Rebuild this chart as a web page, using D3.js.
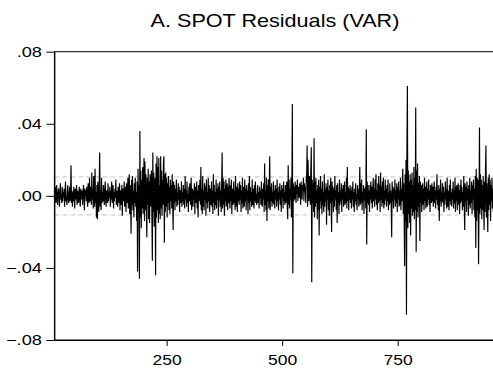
<!DOCTYPE html>
<html>
<head>
<meta charset="utf-8">
<script src="https://cdn.jsdelivr.net/npm/d3@7/dist/d3.min.js"></script>
<style>
  html, body { margin: 0; padding: 0; background: #fff; }
  svg { display: block; }
</style>
</head>
<body>
<svg id="chart" width="493" height="373"></svg>
<script>
// ---- DATA ----
const title = "A. SPOT Residuals (VAR)";
const firstObs = 7;            // observation number of the first residual shown
const lastObs = 958;           // right edge of the sample axis
const valueUnit = 0.001;       // residuals below are written in thousandths
const yTicks = [-0.08, -0.04, 0, 0.04, 0.08];
const xTicks = [250, 500, 750];
const bandLevels = [0.0105, -0.0106]; // dashed reference lines
const residuals = [
  3,-2,5,-4,1,6,-3,-5,2,4,-1,-6,3,7,-2,1,-4,5,-3,2,
  -1,4,-6,2,8,-3,0,-5,3,6,-2,-4,1,5,-3,2,17,-4,3,-6,
  2,-3,5,-1,-7,4,1,-2,6,-5,3,0,-4,2,5,-3,-6,4,1,-2,
  3,-5,2,6,-1,-8,4,0,3,-3,5,-2,-6,7,2,-4,10,-3,5,1,
  -5,13,-2,4,-7,11,3,-6,15,-4,2,-12,6,-13,8,1,-9,5,24,-6,
  3,-8,10,-4,2,-3,6,-1,-5,4,8,-2,-6,3,1,-4,7,-3,2,-1,
  5,-6,3,-2,8,-4,1,6,-7,2,-3,4,-1,9,-5,3,-2,-6,5,2,
  -4,7,-8,3,1,-5,6,-11,4,2,-3,8,-6,-2,5,-9,7,3,-4,10,
  -7,4,12,-10,6,-3,-21,9,-5,11,-8,3,-12,7,-4,10,-6,2,-14,8,
  -42,15,-9,6,-46,36,-12,14,-18,9,-7,16,-10,5,21,-14,19,-8,12,-6,
  -23,10,-5,15,-13,8,-15,12,-6,4,14,-11,-36,24,-9,13,-17,6,10,-44,
  18,-12,22,-8,16,-15,21,-10,6,-13,22,-7,14,-11,9,-5,18,22,-26,12,
  -9,13,-6,10,-12,7,-4,11,-8,5,-10,9,-3,6,-7,12,-5,-19,8,-4,
  6,-8,4,-3,9,-6,2,-5,7,-2,5,-9,3,1,-4,8,-6,2,-3,6,
  -5,4,-7,11,-2,3,-6,8,-4,1,-9,5,-3,7,-1,-5,10,-8,2,4,
  -6,3,-2,7,-10,5,1,-4,8,-7,3,-12,6,-3,2,9,-5,16,-8,4,
  -10,11,-6,3,-8,7,-2,5,-11,9,-4,2,-7,10,-3,6,-9,4,1,-5,
  8,-6,3,-10,12,-4,6,-8,2,-5,9,-7,4,-2,7,-11,5,-3,8,-6,
  3,-9,6,24,-7,10,-5,8,-11,4,-3,9,-6,2,7,-8,5,-4,10,-2,
  -7,6,-3,9,-10,4,1,-5,8,-4,3,-8,11,-6,2,5,-9,7,-3,4,
  -5,8,-2,6,-9,3,-4,10,-7,5,-1,-6,9,-3,4,-8,6,-2,3,-10,
  7,-4,11,-8,5,-3,2,-6,9,-5,4,-2,-7,6,-3,8,-4,1,-5,3,
  6,-4,2,-7,5,-1,3,-5,8,-3,-6,4,-2,7,-9,18,-5,3,-8,10,
  -14,6,-3,9,-7,4,22,-8,5,-3,7,-6,2,-4,8,-5,3,-7,6,-2,
  4,-6,9,-3,2,-8,5,-2,7,-5,3,-9,6,-1,4,-7,8,-3,2,-5,
  6,-4,3,8,-6,-13,17,-5,9,-7,4,-2,10,-12,6,51,-43,7,-3,5,
  -2,8,3,-4,6,1,9,-3,5,2,-1,7,4,-5,8,2,-2,6,3,10,
  -3,7,2,5,-4,9,12,28,-6,20,4,-3,11,6,-5,15,27,-48,9,-4,
  7,-9,32,-12,8,-6,10,-4,3,-13,6,-8,9,-22,5,-3,11,-7,4,-10,
  8,-5,2,-9,12,-6,4,-3,7,-16,5,-2,9,-8,3,-11,6,-4,10,-7,
  -20,8,-3,5,-9,4,-6,11,-2,3,-8,6,-15,7,-4,2,-10,9,-5,3,
  -3,7,-9,4,-2,6,-6,3,8,-5,2,-4,10,-7,16,-3,5,-8,4,-2,
  6,-4,3,-7,5,-2,8,-6,2,-9,4,-3,7,-5,1,-8,6,-2,4,-6,
  3,16,-5,7,-4,9,-8,2,-3,6,-10,4,-2,5,-7,37,-27,8,-4,6,
  -5,3,-9,6,-2,8,-4,5,-7,2,10,-3,4,-6,9,-2,12,-5,3,-8,
  7,-4,11,-3,6,-9,13,-2,5,-6,8,-4,10,-7,3,-5,9,-2,4,-6,
  6,-3,9,-8,2,-5,7,-4,3,-6,-23,8,-3,5,-7,4,-2,9,-6,3,
  -4,7,-9,5,-2,8,-6,3,-5,10,-8,4,-3,6,15,-10,7,-12,-39,12,
  -14,20,-66,28,61,-18,14,-10,8,-15,12,-22,9,-7,13,-11,6,-9,16,-13,
  10,-8,49,-31,14,-9,18,-12,7,-6,11,-25,8,-4,6,-9,3,7,-5,4,
  -8,10,-3,5,-7,2,8,-6,4,-2,9,-5,3,-9,6,-1,-4,7,-3,5,
  -6,2,8,-4,3,-7,5,-2,12,-5,3,-8,6,-14,4,-3,9,-6,2,-4,
  7,-3,5,-9,2,-5,8,-2,4,-7,10,-6,3,-1,-8,6,-3,9,-5,2,
  -6,4,-2,8,-7,3,-4,10,-9,5,-3,6,-8,2,7,-5,3,-10,6,-4,
  9,-3,5,-8,2,-6,11,-4,-19,7,-3,5,-9,8,-2,4,-11,6,-5,10,
  -7,3,-4,8,-10,6,-2,9,-8,4,-12,11,-29,15,-14,10,-8,9,-38,-6,
  38,-10,12,-7,9,-13,6,-8,11,-5,-19,8,-9,14,28,-12,7,-6,-20,10,
  -8,12,-5,9,-14,6,-3,10,-7,4,-9
];

// ---- CHART ----
const svg = d3.select("#chart");
const FONT = "'Liberation Sans', Arial, Helvetica, sans-serif";
const plot = { left: 54.4, right: 493.8, top: 51.7, bottom: 340 };

const x = d3.scaleLinear().domain([firstObs, lastObs]).range([plot.left, plot.right]);
const y = d3.scaleLinear().domain([-0.08, 0.08]).range([plot.bottom, plot.top]);

const series = residuals.map((v, i) => ({ t: firstObs + i, v: v * valueUnit }));

// dashed reference lines
svg.append("g").selectAll("line").data(bandLevels).join("line")
  .attr("x1", plot.left).attr("x2", plot.right)
  .attr("y1", d => y(d)).attr("y2", d => y(d))
  .attr("stroke", "#c4c4c4").attr("stroke-width", 1)
  .attr("stroke-dasharray", "5,3");

// residual line
svg.append("path")
  .datum(series)
  .attr("fill", "none")
  .attr("stroke", "#000")
  .attr("stroke-width", 1.15)
  .attr("stroke-linejoin", "miter")
  .attr("d", d3.line().x(d => x(d.t)).y(d => y(d.v)));

// frame
svg.append("rect")
  .attr("x", plot.left).attr("y", plot.top)
  .attr("width", plot.right - plot.left).attr("height", plot.bottom - plot.top)
  .attr("fill", "none").attr("stroke", "#000").attr("stroke-width", 1);

const fmtY = v => d3.format(".2f")(v).replace("0.", ".");

// y axis
const gy = svg.append("g")
  .attr("transform", `translate(${plot.left},0)`)
  .call(d3.axisLeft(y).tickValues(yTicks).tickFormat(fmtY).tickSize(8).tickSizeOuter(0));
gy.select(".domain").attr("stroke", "#000");
gy.selectAll(".tick line").attr("stroke", "#000");
gy.selectAll(".tick text")
  .attr("x", 0).attr("dy", "0.35em")
  .attr("transform", "translate(-12.5,0) scale(1.3,1)")
  .attr("text-anchor", "end")
  .attr("fill", "#000")
  .style("font-family", FONT).style("font-size", "14px");

// x axis
const gx = svg.append("g")
  .attr("transform", `translate(0,${plot.bottom})`)
  .call(d3.axisBottom(x).tickValues(xTicks).tickFormat(d3.format("d")).tickSize(6).tickSizeOuter(0));
gx.select(".domain").attr("stroke", "#000");
gx.selectAll(".tick line").attr("stroke", "#000");
gx.selectAll(".tick text")
  .attr("y", 0).attr("dy", 0)
  .attr("transform", "translate(0,25) scale(1.25,1)")
  .attr("text-anchor", "middle")
  .attr("fill", "#000")
  .style("font-family", FONT).style("font-size", "14px");

// title
svg.append("text")
  .attr("transform", "translate(275,27) scale(1.2,1)")
  .attr("text-anchor", "middle")
  .attr("fill", "#000")
  .style("font-family", FONT).style("font-size", "18px")
  .text(title);
</script>
</body>
</html>
